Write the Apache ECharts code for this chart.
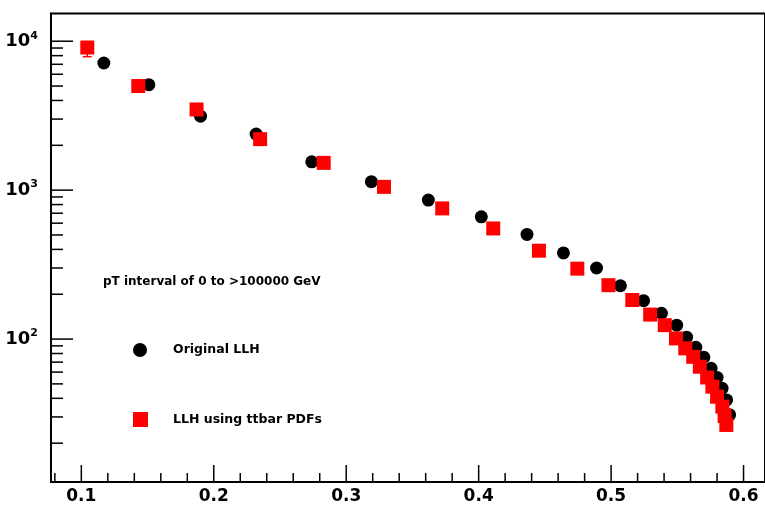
<!DOCTYPE html>
<html>
<head>
<meta charset="utf-8">
<script src="https://cdn.jsdelivr.net/npm/echarts@6/dist/echarts.min.js"></script>
<style>
    html, body { margin: 0; padding: 0; background: #fff; }
    #chart { width: 765px; height: 506px; }
</style>
</head>
<body>
<div id="chart"></div>
<script>
// values
const origX = [0.117, 0.151, 0.190, 0.232, 0.274, 0.319, 0.362, 0.402, 0.4365, 0.464, 0.489, 0.507,
    0.5245, 0.538, 0.5495, 0.557, 0.564, 0.570, 0.5755, 0.580, 0.5838, 0.5872, 0.5895];
const origY = [7140, 5100, 3140, 2380, 1550, 1140, 857, 662, 504, 379, 300, 228,
    181, 149, 124, 103, 88, 75.5, 63.6, 55.3, 46.7, 39, 31];

const ttbarX = [0.1045, 0.143, 0.187, 0.235, 0.283, 0.3285, 0.3725, 0.411, 0.4455, 0.4745, 0.498, 0.516,
    0.5295, 0.5405, 0.549, 0.556, 0.562, 0.567, 0.5725, 0.5765, 0.580, 0.584, 0.5857, 0.587];
const ttbarY = [9075, 5000, 3480, 2200, 1525, 1052, 754, 553, 392, 297, 230, 183,
    146, 124, 101, 86.6, 76, 65.2, 55.2, 47.9, 41, 35.2, 30.4, 26.5];
const ttbarErr = [1200, 60, 40, 30, 25, 20, 15, 12, 10, 8, 7, 6,
    5, 5, 4, 4, 4, 3, 3, 3, 3, 2, 2, 2];

const xMajor = [0.1, 0.2, 0.3, 0.4, 0.5, 0.6];
const xMinor = [0.08, 0.12, 0.14, 0.16, 0.18, 0.22, 0.24, 0.26, 0.28, 0.32, 0.34, 0.36, 0.38,
    0.42, 0.44, 0.46, 0.48, 0.52, 0.54, 0.56, 0.58];
const yMajor = [100, 1000, 10000];
const yMinor = [20, 30, 40, 50, 60, 70, 80, 90,
    200, 300, 400, 500, 600, 700, 800, 900,
    2000, 3000, 4000, 5000, 6000, 7000, 8000, 9000];

const seriesNames = ['Original LLH', 'LLH using ttbar PDFs'];
const noteText = 'pT interval of 0 to >100000 GeV';

const X_MIN = 0.0771, X_MAX = 0.6162;
const Y_MIN = 10.97, Y_MAX = 15350;
const FONT = 'DejaVu Sans';

const chart = echarts.init(document.getElementById('chart'), null, { renderer: 'canvas' });

const zip = (xs, ys) => xs.map((x, i) => [x, ys[i]]);
const textStyle = { fontFamily: FONT, fontSize: 12, fontWeight: 'bold', color: '#000' };
const legendText = { fontFamily: FONT, fontSize: 12.5, fontWeight: 'bold', color: '#000' };

// tick marks: [0 = x axis / 1 = y axis, value, length]
const tickData = [].concat(
    xMajor.map(v => [0, v, 17]),
    xMinor.map(v => [0, v, 9]),
    yMajor.map(v => [1, v, 22]),
    yMinor.map(v => [1, v, 12])
);

const option = {
    animation: false,
    backgroundColor: '#fff',
    title: {
        text: noteText,
        left: 98,
        top: 271,
        textStyle: textStyle
    },
    legend: [{
        data: [seriesNames[0]],
        left: 128, top: 338,
        itemWidth: 14, itemHeight: 14,
        textStyle: Object.assign({ padding: [0, 0, 0, 21] }, legendText)
    }, {
        data: [seriesNames[1]],
        left: 128, top: 407,
        itemWidth: 15, itemHeight: 15,
        textStyle: Object.assign({ padding: [0, 0, 0, 20] }, legendText)
    }],
    grid: {
        left: 51, top: 13.5, width: 717, height: 468.5,
        show: true, borderColor: '#000', borderWidth: 2, backgroundColor: 'transparent'
    },
    xAxis: {
        type: 'value',
        min: X_MIN, max: X_MAX,
        axisLine: { show: true, onZero: false, lineStyle: { color: '#000', width: 2 } },
        axisTick: { show: false },
        axisLabel: {
            customValues: xMajor, margin: 6,
            formatter: v => v.toFixed(1),
            fontFamily: FONT, fontSize: 17, fontWeight: 'bold', color: '#000'
        },
        splitLine: { show: false }
    },
    yAxis: {
        type: 'log',
        logBase: 10,
        min: Y_MIN, max: Y_MAX,
        axisLine: { show: true, lineStyle: { color: '#000', width: 2 } },
        axisTick: { show: false },
        axisLabel: {
            margin: 13,
            customValues: yMajor,
            formatter: v => '{b|10}{s|' + Math.round(Math.log10(v)) + '}',
            rich: {
                b: { fontFamily: FONT, fontSize: 18, fontWeight: 'bold', color: '#000', lineHeight: 22 },
                s: { fontFamily: FONT, fontSize: 11, fontWeight: 'bold', color: '#000', verticalAlign: 'top', lineHeight: 22 }
            }
        },
        splitLine: { show: false }
    },
    series: [{
        name: 'ticks',
        type: 'custom',
        data: tickData,
        silent: true,
        renderItem: (params, api) => {
            const onY = api.value(0) === 1, v = api.value(1), len = api.value(2);
            const p = onY ? api.coord([X_MIN, v]) : api.coord([v, Y_MIN]);
            const shape = onY
                ? { x1: p[0], y1: p[1], x2: p[0] + len, y2: p[1] }
                : { x1: p[0], y1: p[1], x2: p[0], y2: p[1] - len };
            return { type: 'line', shape, style: { stroke: '#000', lineWidth: 1.5 } };
        },
        z: 1
    }, {
        name: seriesNames[0],
        type: 'scatter',
        symbol: 'circle',
        symbolSize: 13,
        itemStyle: { color: '#000', opacity: 1 },
        data: zip(origX, origY),
        z: 2
    }, {
        name: seriesNames[1] + ' errors',
        type: 'custom',
        data: ttbarX.map((x, i) => [x, ttbarY[i], ttbarErr[i]]),
        renderItem: (params, api) => {
            // only the lower half shows outside the marker in the picture
            const x = api.value(0), y = api.value(1), e = api.value(2);
            const mid = api.coord([x, y]);
            const lo = api.coord([x, y - e]);
            const style = { stroke: '#ff0000', lineWidth: 1.5 };
            return {
                type: 'group',
                children: [
                    { type: 'line', shape: { x1: mid[0], y1: mid[1], x2: lo[0], y2: lo[1] }, style },
                    { type: 'line', shape: { x1: lo[0] - 4.5, y1: lo[1], x2: lo[0] + 4.5, y2: lo[1] }, style }
                ]
            };
        },
        silent: true,
        z: 3
    }, {
        name: seriesNames[1],
        type: 'scatter',
        symbol: 'rect',
        symbolSize: 14,
        itemStyle: { color: '#ff0000', opacity: 1 },
        data: zip(ttbarX, ttbarY),
        z: 4
    }]
};

chart.setOption(option);
</script>
</body>
</html>
